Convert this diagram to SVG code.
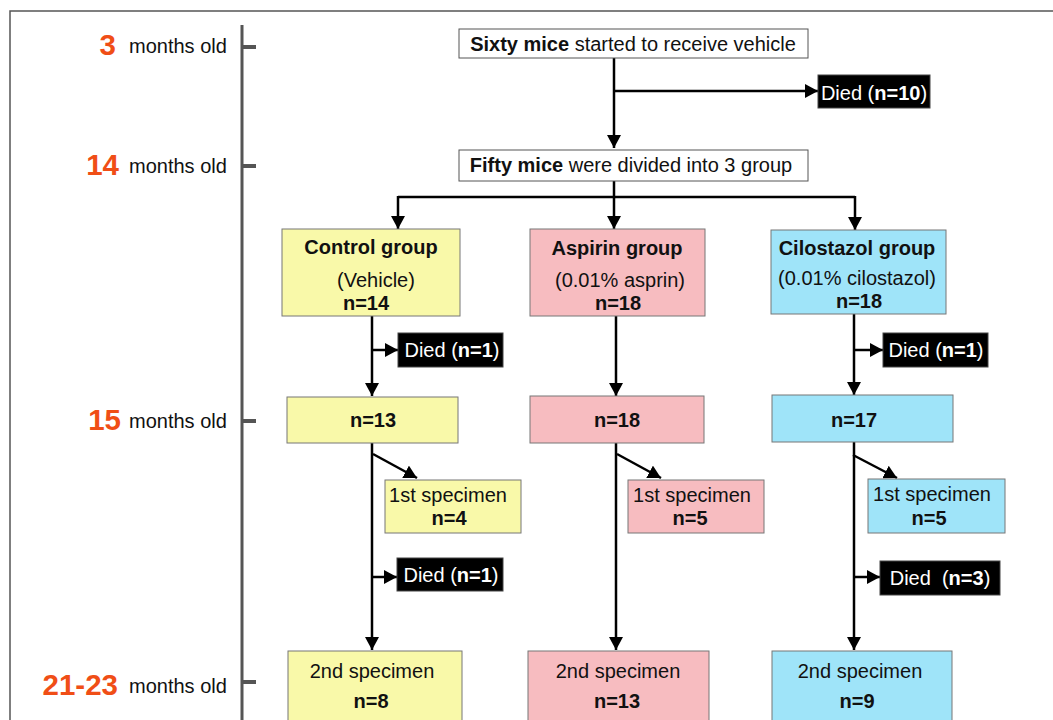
<svg xmlns="http://www.w3.org/2000/svg" width="1053" height="720" viewBox="0 0 1053 720">
<defs>
<marker id="ah" markerUnits="userSpaceOnUse" markerWidth="14" markerHeight="14" refX="13" refY="7" orient="auto"><path d="M0,0 L13,7 L0,14 z" fill="#000"/></marker>
<style>
text{font-family:"Liberation Sans",Arial,sans-serif;font-size:20px;fill:#111}
.b{font-weight:bold}
.num{font-size:29.5px;font-weight:bold;fill:#F04E16}
.w{fill:#fff}
.wb{fill:#fff;stroke:#555;stroke-width:1}
.blk{fill:#000;stroke:#444;stroke-width:1}
.y{fill:#F9F9A9;stroke:#777;stroke-width:1}
.p{fill:#F7BCC0;stroke:#777;stroke-width:1}
.c{fill:#9FE4F9;stroke:#777;stroke-width:1}
.con{stroke:#000;stroke-width:2.5;fill:none}
.ar{marker-end:url(#ah)}
</style>
</defs>
<rect width="1053" height="720" fill="#fff"/>
<path d="M10,730 V11 H1060" fill="none" stroke="#555" stroke-width="1.5"/>
<g id="timeline">
<path d="M242,25 V720" stroke="#555" stroke-width="3" fill="none"/>
<path d="M242,47 H256 M242,166 H256 M242,421 H256 M242,682 H256" stroke="#555" stroke-width="4"/>
<text x="116" y="55" class="num" text-anchor="end">3</text><text x="129" y="53">months old</text>
<text x="119" y="175" class="num" text-anchor="end">14</text><text x="129" y="173">months old</text>
<text x="121" y="430" class="num" text-anchor="end">15</text><text x="129" y="428">months old</text>
<text x="118" y="695" class="num" text-anchor="end">21-23</text><text x="129" y="693">months old</text>
</g>
<g id="connectors">
<path class="con ar" d="M614,58 V148"/>
<path class="con ar" d="M614,91 H818"/>
<path class="con" d="M614,181 V197 M398,197 H855"/>
<path class="con ar" d="M398,196 V229"/>
<path class="con ar" d="M614,196 V229"/>
<path class="con ar" d="M855,196 V230"/>
<path class="con ar" d="M372,316 V396"/>
<path class="con ar" d="M372,350 H398"/>
<path class="con ar" d="M616,316 V396"/>
<path class="con ar" d="M854,314 V395"/>
<path class="con ar" d="M854,350 H883"/>
<path class="con ar" d="M372,443 V650"/>
<path class="con ar" d="M373,454 L417,478"/>
<path class="con ar" d="M372,577 H397"/>
<path class="con ar" d="M616,443 V650"/>
<path class="con ar" d="M617,454 L661,478"/>
<path class="con ar" d="M854,441 V650"/>
<path class="con ar" d="M853,455 L897,478"/>
<path class="con ar" d="M854,577 H880"/>
</g>
<g id="n-start"><rect class="wb" x="459" y="29" width="349" height="29"/><text x="633" y="51" text-anchor="middle"><tspan class="b">Sixty mice</tspan> started to receive vehicle</text></g>
<g id="n-died10"><rect class="blk" x="818" y="75" width="112" height="33"/><text x="874" y="100" text-anchor="middle" class="w">Died (<tspan class="b w">n=10</tspan>)</text></g>
<g id="n-fifty"><rect class="wb" x="459" y="150" width="349" height="31"/><text x="631" y="172" text-anchor="middle"><tspan class="b">Fifty mice</tspan> were divided into 3 group</text></g>
<g id="n-control"><rect class="y" x="282" y="229" width="178" height="87"/><text x="371" y="254" text-anchor="middle" class="b">Control group</text><text x="376" y="287" text-anchor="middle">(Vehicle)</text><text x="366" y="310" text-anchor="middle" class="b">n=14</text></g>
<g id="n-aspirin"><rect class="p" x="530" y="229" width="175" height="87"/><text x="617" y="255" text-anchor="middle" class="b">Aspirin group</text><text x="620" y="287" text-anchor="middle">(0.01% asprin)</text><text x="618" y="310" text-anchor="middle" class="b">n=18</text></g>
<g id="n-cilostazol"><rect class="c" x="771" y="230" width="175" height="84"/><text x="857" y="255" text-anchor="middle" class="b">Cilostazol group</text><text x="857" y="285" text-anchor="middle">(0.01% cilostazol)</text><text x="859" y="308" text-anchor="middle" class="b">n=18</text></g>
<g id="n-died-c1"><rect class="blk" x="398" y="333" width="105" height="34"/><text x="452" y="357" text-anchor="middle" class="w">Died (<tspan class="b w">n=1</tspan>)</text></g>
<g id="n-died-z1"><rect class="blk" x="883" y="333" width="105" height="34"/><text x="936" y="357" text-anchor="middle" class="w">Died (<tspan class="b w">n=1</tspan>)</text></g>
<g id="n-c13"><rect class="y" x="287" y="397" width="171" height="46"/><text x="373" y="427" text-anchor="middle" class="b">n=13</text></g>
<g id="n-a18"><rect class="p" x="530" y="396" width="174" height="47"/><text x="617" y="427" text-anchor="middle" class="b">n=18</text></g>
<g id="n-z17"><rect class="c" x="772" y="395" width="181" height="47"/><text x="854" y="427" text-anchor="middle" class="b">n=17</text></g>
<g id="n-c1st"><rect class="y" x="385" y="480" width="136" height="53"/><text x="448" y="502" text-anchor="middle">1st specimen</text><text x="449" y="525" text-anchor="middle" class="b">n=4</text></g>
<g id="n-a1st"><rect class="p" x="628" y="480" width="136" height="53"/><text x="692" y="502" text-anchor="middle">1st specimen</text><text x="690" y="525" text-anchor="middle" class="b">n=5</text></g>
<g id="n-z1st"><rect class="c" x="868" y="479" width="137" height="54"/><text x="932" y="501" text-anchor="middle">1st specimen</text><text x="929" y="525" text-anchor="middle" class="b">n=5</text></g>
<g id="n-died-c2"><rect class="blk" x="397" y="558" width="106" height="33"/><text x="451" y="582" text-anchor="middle" class="w">Died (<tspan class="b w">n=1</tspan>)</text></g>
<g id="n-died-z3"><rect class="blk" x="880" y="561" width="120" height="34"/><text x="940" y="585" text-anchor="middle" class="w" xml:space="preserve">Died  (<tspan class="b w">n=3</tspan>)</text></g>
<g id="n-c2nd"><rect class="y" x="288" y="651" width="174" height="80"/><text x="372" y="678" text-anchor="middle">2nd specimen</text><text x="371" y="708" text-anchor="middle" class="b">n=8</text></g>
<g id="n-a2nd"><rect class="p" x="528" y="651" width="181" height="80"/><text x="618" y="678" text-anchor="middle">2nd specimen</text><text x="617" y="708" text-anchor="middle" class="b">n=13</text></g>
<g id="n-z2nd"><rect class="c" x="772" y="651" width="180" height="80"/><text x="860" y="678" text-anchor="middle">2nd specimen</text><text x="857" y="708" text-anchor="middle" class="b">n=9</text></g>
</svg>
